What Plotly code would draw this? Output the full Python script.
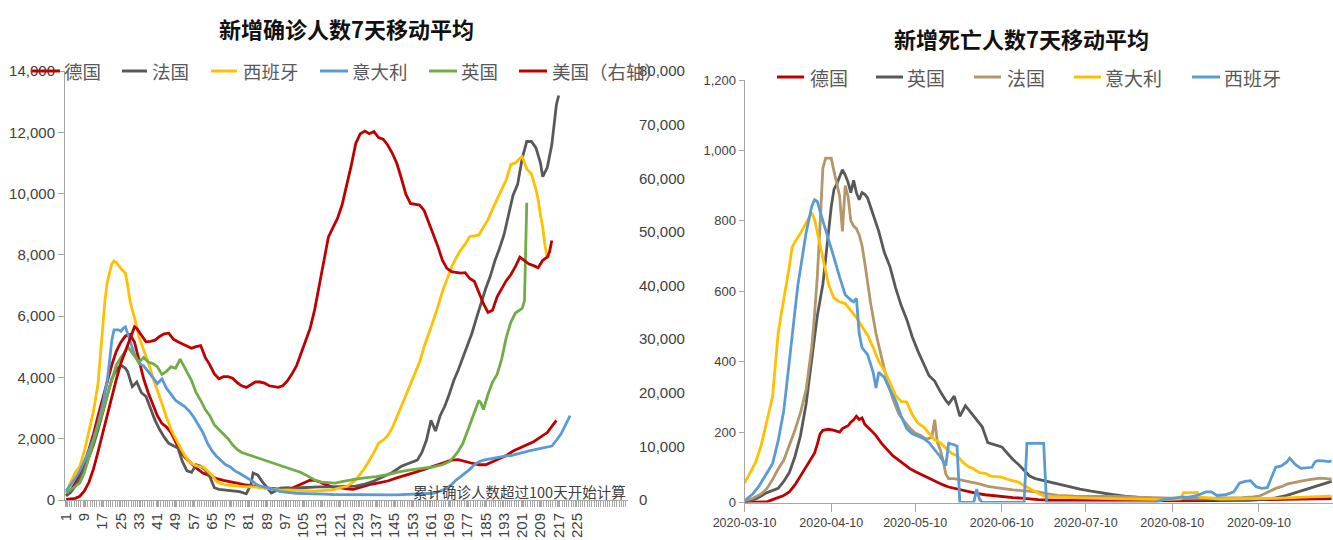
import plotly.graph_objects as go

W, H = 1333, 540

# ======================= Left chart: 新增确诊人数7天移动平均 =======================
# x = day number since cumulative cases passed 100 (category axis)
de_c_day = [1, 3, 5, 7, 9, 11, 13, 15, 17, 19, 21, 23, 25, 27, 29, 31, 33, 35, 37, 39, 41, 43, 45, 47, 49, 51, 53, 55,
            58, 61, 64, 67, 70, 73, 76, 79, 82, 85, 88, 91, 94, 97, 100, 103, 106,
            108, 110, 112, 114, 116, 118, 121, 124, 127, 130,
            134, 138, 142, 146, 150, 154, 158, 162, 166, 170,
            173, 176, 179, 182, 185, 188, 191, 194, 197, 200, 203, 206, 209, 212, 214, 216]
de_c_val = [150, 300, 550, 850, 1200, 1650, 2150, 2750, 3300, 3850, 4400, 4850, 5150, 5350, 5400, 5150, 4550, 3950, 3500, 3100, 2750, 2500, 2380, 2200, 1900, 1600, 1400, 1250,
            1050, 880, 780, 700, 640, 590, 540, 500, 470, 430, 400, 380, 350, 340, 380, 480, 600,
            650, 640, 600, 520, 460, 420, 400, 360, 350, 420,
            500, 560, 620, 720, 800, 900, 1000, 1100, 1200, 1300,
            1320, 1250, 1200, 1150, 1150, 1250, 1350, 1450, 1600, 1700, 1800, 1900, 2050, 2200, 2400, 2600]

fr_c_day = [1, 3, 5, 7, 9, 11, 13, 15, 17, 19, 21, 23, 25, 27, 28, 30, 32, 34, 36, 38, 40, 42, 44, 46, 48, 50,
            52, 54, 56, 58, 60, 62, 64, 66, 68, 71, 74, 77, 80, 82, 83, 85, 87, 89, 91, 93, 95, 98,
            101, 104, 108, 112, 116, 120, 124, 128, 132, 136, 140, 144, 148, 152, 155, 157, 159, 161, 163,
            165, 167, 169, 171, 173, 175, 177, 179, 181, 183, 185, 187, 189, 191, 193, 195, 197, 199,
            201, 203, 205, 207, 209, 210, 212, 214, 215, 216, 217]
fr_c_val = [130, 250, 450, 700, 1000, 1400, 1800, 2300, 2900, 3400, 3950, 4250, 4400, 4300, 4180, 3700, 3850, 3500, 3380, 3000, 2600, 2300, 2050, 1850, 1780, 1700,
            1250, 950, 900, 1150, 1100, 980, 760, 400, 350, 330, 300, 270, 200, 500, 880, 820, 600, 420, 230, 300, 390, 400,
            380, 400, 420, 430, 430, 430, 440, 450, 520, 620, 760, 900, 1100, 1200, 1300, 1550, 1950, 2600, 2250,
            2750, 3050, 3450, 3900, 4250, 4650, 5050, 5450, 5950, 6450, 6900, 7300, 7800, 8200, 8650, 9300, 9950, 10300,
            11150, 11700, 11700, 11500, 11000, 10550, 10850, 11600, 12300, 12900, 13200]

es_c_day = [1, 3, 5, 7, 9, 11, 13, 15, 16, 17, 18, 19, 20, 21, 22, 23, 25, 27, 28, 29, 30, 31, 33, 35, 37, 39,
            41, 43, 45, 47, 49, 51, 53, 55, 57, 59, 61, 63, 65, 67, 69, 71, 74, 77, 80, 83, 86, 89, 92, 95, 98,
            102, 106, 110, 114, 118, 121, 124, 126, 128, 130, 132, 134, 136, 138, 140, 142, 144, 146, 148, 150,
            152, 154, 156, 158, 160, 162, 164, 166, 168, 170, 172, 174, 176, 178, 180, 182, 184, 186, 188, 190,
            192, 194, 196, 198, 200, 201, 203, 205, 207, 208, 209, 210, 211, 212, 213]
es_c_val = [250, 550, 900, 1100, 1600, 2250, 2900, 3800, 4700, 5700, 6500, 7100, 7450, 7700, 7800, 7750, 7550, 7400, 7000, 6500, 6200, 5950, 5300, 4900, 4500, 4000,
            3600, 3150, 2700, 2300, 2000, 1700, 1450, 1250, 1150, 1100, 1080, 950, 800, 600, 530, 490, 470, 430, 430, 430, 400, 380, 330, 320, 330,
            320, 300, 290, 310, 330, 400, 440, 540, 650, 850, 1050, 1300, 1550, 1850, 1950, 2100, 2350, 2700, 3050, 3450,
            3800, 4150, 4500, 5000, 5400, 5850, 6300, 6800, 7200, 7600, 7900, 8150, 8350, 8600, 8620, 8650, 8900, 9150, 9500, 9800,
            10150, 10450, 10950, 11000, 11150, 11200, 10800, 10650, 10150, 9800, 9300, 8900, 8300, 7900, 8000]

it_c_day = [1, 3, 5, 7, 9, 11, 13, 15, 17, 19, 20, 21, 22, 24, 25, 26, 27, 28, 29, 31, 33, 35, 37, 39, 41, 43, 45,
            47, 49, 51, 53, 55, 57, 59, 61, 63, 65, 67, 69, 71, 73, 75, 77, 79, 81, 83, 85, 87, 89, 91, 93, 95, 98,
            102, 106, 110, 114, 118, 122, 126, 130, 134, 138, 142, 146, 150, 154, 158, 162, 164, 166, 168, 170,
            172, 174, 176, 178, 180, 182, 184, 186, 188, 190, 192, 194, 196, 198, 200, 202, 204, 206, 208, 210,
            212, 214, 216, 218, 220, 222]
it_c_val = [300, 500, 700, 950, 1250, 1600, 2000, 2500, 3100, 3900, 4500, 5200, 5550, 5550, 5500, 5600, 5650, 5450, 5200, 4750, 4450, 4380, 4200, 4000, 3800, 3950, 3650,
            3450, 3250, 3150, 3050, 2900, 2700, 2450, 2200, 1850, 1600, 1420, 1300, 1150, 1080, 950, 870, 780, 680, 600, 480, 440, 420, 370, 320, 270, 240,
            220, 210, 210, 190, 180, 175, 165, 170, 165, 170, 165, 165, 175, 190, 200, 220, 260, 320, 380, 500,
            650, 760, 870, 1000, 1150, 1250, 1300, 1330, 1360, 1390, 1420, 1440, 1450, 1480, 1520, 1560, 1600, 1630, 1660, 1700,
            1720, 1760, 1950, 2150, 2450, 2750]

uk_c_day = [1, 3, 5, 7, 9, 11, 13, 15, 17, 19, 21, 23, 25, 27, 28, 29, 31, 33, 35, 37, 39, 41, 43, 45, 47, 49, 51, 52,
            54, 56, 58, 60, 62, 64, 66, 68, 70, 72, 74, 76, 78, 80, 83, 86, 89, 92, 95, 98, 101, 104, 107, 110,
            113, 116, 119, 122, 125, 128, 132, 137, 142, 147, 152, 157, 162, 166, 169, 171, 173, 175, 177, 179,
            181, 182, 183, 184, 186, 188, 190, 192, 194, 196, 198, 200, 201, 202, 203]
uk_c_val = [220, 330, 450, 560, 900, 1400, 1850, 2350, 2900, 3400, 3900, 4400, 4650, 4850, 5000, 4900, 4700, 4500, 4650, 4500, 4450, 4350, 4100, 4200, 4350, 4300, 4600, 4450,
            4200, 3900, 3500, 3250, 2950, 2750, 2450, 2300, 2150, 2000, 1800, 1650, 1550, 1500, 1420, 1350, 1260, 1200, 1130, 1050, 980, 900, 780, 650,
            580, 560, 550, 600, 650, 680, 720, 760, 830, 920, 980, 1030, 1080, 1150, 1250, 1400, 1600, 1850, 2250, 2650,
            3000, 3250, 3150, 2950, 3450, 3850, 4100, 4600, 5300, 5800, 6100, 6200, 6250, 6500, 9700]

# US on the right axis
us_c_day = [1, 3, 5, 7, 9, 11, 13, 15, 17, 19, 21, 23, 25, 27, 29, 31,
            32, 34, 36, 38, 40, 42, 44, 46, 48, 50, 52, 54, 56, 58, 60, 62, 64, 66, 68, 70,
            72, 74, 76, 78, 80, 82, 84, 86, 88, 90, 92, 94, 96, 98, 100, 102, 104, 106, 108, 110,
            112, 114, 116, 118, 120, 122, 124, 126, 128, 130, 132, 134, 136, 138, 140, 142, 144, 146, 148, 150,
            152, 154, 156, 158, 160, 162, 164, 166, 168, 170, 172, 174, 176, 178, 180, 182, 184, 186, 188, 190,
            192, 194, 196, 198, 200, 202, 204, 206, 208, 210, 212, 213, 214]
us_c_val = [100, 150, 300, 700, 1700, 3300, 5800, 9000, 12400, 15900, 19200, 22500, 25500, 27900, 30300, 32300,
            32000, 30700, 29500, 29600, 29800, 30500, 31000, 31100, 30000, 29500, 29100, 28700, 28300, 28600, 28800, 26600, 25200, 23500, 22600, 23000,
            23000, 22700, 21900, 21300, 21000, 21500, 22000, 22000, 21800, 21300, 21100, 21000, 21300, 22200, 23500, 25000, 27300, 29500, 32000, 35500,
            40000, 45000, 49000, 50800, 52500, 55000, 58500, 62300, 66500, 68300, 68800, 68300, 68700, 67600, 67300, 66200, 64700, 62800, 60000, 57000,
            55300, 55200, 55000, 54000, 51800, 49700, 47300, 44700, 43200, 42600, 42400, 42300, 42400, 41300, 40800, 38700, 36600, 35000, 35400, 37900,
            39400, 40900, 42000, 43500, 45300, 44600, 44000, 43700, 43300, 44700, 45300, 46300, 48400]

left_tickvals = [1, 9, 17, 25, 33, 41, 49, 57, 65, 73, 81, 89, 97, 105, 113, 121, 129, 137, 145, 153, 161, 169,
                 177, 185, 193, 201, 209, 217, 225]
left_ticktext = [str(v) for v in left_tickvals]

# ======================= Right chart: 新增死亡人数7天移动平均 =======================
de_d_date = ["2020-03-10", "2020-03-18", "2020-03-20", "2020-03-22", "2020-03-24", "2020-03-26", "2020-03-28", "2020-03-30",
             "2020-04-01", "2020-04-03", "2020-04-04", "2020-04-05", "2020-04-06", "2020-04-07", "2020-04-09", "2020-04-11",
             "2020-04-12", "2020-04-13", "2020-04-14", "2020-04-15", "2020-04-16", "2020-04-17", "2020-04-18", "2020-04-19",
             "2020-04-20", "2020-04-21", "2020-04-22", "2020-04-24", "2020-04-26", "2020-04-28", "2020-04-30", "2020-05-02",
             "2020-05-04", "2020-05-06", "2020-05-08", "2020-05-10", "2020-05-12", "2020-05-14", "2020-05-16", "2020-05-18",
             "2020-05-20", "2020-05-22", "2020-05-24", "2020-05-26", "2020-05-29", "2020-06-01", "2020-06-04", "2020-06-07",
             "2020-06-10", "2020-06-14", "2020-06-18", "2020-06-23", "2020-06-28", "2020-07-08", "2020-07-18", "2020-07-28",
             "2020-08-07", "2020-08-17", "2020-08-27", "2020-09-06", "2020-09-11", "2020-09-16", "2020-09-26", "2020-10-06"]
de_d_val = [0, 2, 8, 14, 20, 30, 50, 75, 100, 128, 140, 165, 195, 205, 208, 205, 202, 200, 210, 215, 218, 228, 235, 245,
            236, 240, 222, 207, 190, 168, 150, 133, 121, 108, 97, 88, 80, 72, 66, 58, 50, 44, 40, 36, 30, 26, 22, 19,
            17, 14, 12, 8, 7, 6, 5, 5, 5, 5, 5, 7, 8, 9, 10, 11]

uk_d_date = ["2020-03-10", "2020-03-14", "2020-03-18", "2020-03-22", "2020-03-24", "2020-03-26", "2020-03-28", "2020-03-30",
             "2020-04-01", "2020-04-03", "2020-04-05", "2020-04-07", "2020-04-08", "2020-04-09", "2020-04-10", "2020-04-11",
             "2020-04-12", "2020-04-13", "2020-04-14", "2020-04-15", "2020-04-16", "2020-04-17", "2020-04-18", "2020-04-19",
             "2020-04-20", "2020-04-21", "2020-04-22", "2020-04-23", "2020-04-24", "2020-04-25", "2020-04-27", "2020-04-29",
             "2020-05-01", "2020-05-03", "2020-05-05", "2020-05-07", "2020-05-09", "2020-05-11", "2020-05-13", "2020-05-15",
             "2020-05-17", "2020-05-19", "2020-05-21", "2020-05-22", "2020-05-24", "2020-05-26", "2020-05-28", "2020-05-30",
             "2020-06-01", "2020-06-03", "2020-06-05", "2020-06-07", "2020-06-10", "2020-06-12", "2020-06-14", "2020-06-16",
             "2020-06-18", "2020-06-20", "2020-06-22", "2020-06-24", "2020-06-26", "2020-06-28", "2020-07-01", "2020-07-04",
             "2020-07-08", "2020-07-12", "2020-07-16", "2020-07-20", "2020-07-24", "2020-07-28", "2020-08-02", "2020-08-07",
             "2020-08-17", "2020-08-27", "2020-09-06", "2020-09-12", "2020-09-16", "2020-09-20", "2020-09-24", "2020-09-28",
             "2020-10-02", "2020-10-06"]
uk_d_val = [1, 10, 28, 40, 60, 85, 130, 190, 280, 400, 530, 620, 700, 760, 840, 890, 905, 925, 945, 930, 910, 880, 915, 880,
            860, 880, 875, 865, 840, 820, 770, 710, 670, 610, 560, 520, 470, 430, 395, 360, 345, 315, 290, 280, 302, 245,
            275, 255, 233, 215, 170, 165, 158, 140, 122, 108, 92, 75, 68, 64, 62, 57, 52, 44, 38, 32, 26, 22, 18, 15,
            12, 11, 9, 7, 7, 9, 13, 20, 30, 40, 50, 60]

fr_d_date = ["2020-03-10", "2020-03-13", "2020-03-16", "2020-03-18", "2020-03-20", "2020-03-22", "2020-03-24", "2020-03-26",
             "2020-03-28", "2020-03-30", "2020-03-31", "2020-04-01", "2020-04-02", "2020-04-03", "2020-04-04", "2020-04-05",
             "2020-04-06", "2020-04-07", "2020-04-08", "2020-04-10", "2020-04-11", "2020-04-12", "2020-04-13", "2020-04-14",
             "2020-04-15", "2020-04-16", "2020-04-17", "2020-04-18", "2020-04-19", "2020-04-20", "2020-04-21", "2020-04-22",
             "2020-04-23", "2020-04-24", "2020-04-26", "2020-04-28", "2020-04-30", "2020-05-02", "2020-05-04", "2020-05-06",
             "2020-05-08", "2020-05-10", "2020-05-12", "2020-05-14", "2020-05-16", "2020-05-17", "2020-05-18", "2020-05-19",
             "2020-05-20", "2020-05-21", "2020-05-22", "2020-05-24", "2020-05-27", "2020-05-30", "2020-06-02", "2020-06-05",
             "2020-06-08", "2020-06-11", "2020-06-14", "2020-06-17", "2020-06-20", "2020-06-23", "2020-06-26", "2020-06-30",
             "2020-07-06", "2020-07-13", "2020-07-20", "2020-07-28", "2020-08-05", "2020-08-13", "2020-08-21", "2020-08-29",
             "2020-09-04", "2020-09-08", "2020-09-10", "2020-09-12", "2020-09-14", "2020-09-16", "2020-09-18", "2020-09-20",
             "2020-09-22", "2020-09-24", "2020-09-26", "2020-09-28", "2020-09-30", "2020-10-02", "2020-10-04", "2020-10-06"]
fr_d_val = [5, 12, 25, 40, 65, 95, 120, 160, 205, 255, 285, 320, 380, 440, 530, 640, 790, 950, 978, 978, 940, 900, 870, 770,
            900, 870, 800, 785, 778, 760, 730, 680, 620, 570, 480, 415, 345, 295, 255, 232, 212, 197, 190, 180, 185, 235,
            170, 150, 120, 80, 68, 68, 62, 58, 53, 46, 42, 38, 36, 34, 32, 30, 25, 20, 18, 18, 17, 15, 13, 12, 12, 12,
            14, 16, 18, 25, 33, 40, 45, 52, 56, 60, 62, 65, 67, 69, 68, 66]

it_d_date = ["2020-03-10", "2020-03-12", "2020-03-14", "2020-03-16", "2020-03-17", "2020-03-18", "2020-03-20", "2020-03-21",
             "2020-03-22", "2020-03-23", "2020-03-24", "2020-03-26", "2020-03-27", "2020-03-28", "2020-03-30", "2020-04-01",
             "2020-04-03", "2020-04-04", "2020-04-05", "2020-04-07", "2020-04-09", "2020-04-11", "2020-04-13", "2020-04-15",
             "2020-04-17", "2020-04-19", "2020-04-21", "2020-04-23", "2020-04-25", "2020-04-27", "2020-04-29", "2020-05-01",
             "2020-05-03", "2020-05-05", "2020-05-07", "2020-05-09", "2020-05-11", "2020-05-13", "2020-05-15", "2020-05-17",
             "2020-05-19", "2020-05-21", "2020-05-23", "2020-05-25", "2020-05-27", "2020-05-29", "2020-05-31", "2020-06-02",
             "2020-06-04", "2020-06-06", "2020-06-08", "2020-06-10", "2020-06-12", "2020-06-14", "2020-06-16", "2020-06-18",
             "2020-06-20", "2020-06-22", "2020-06-24", "2020-06-26", "2020-06-30", "2020-07-08", "2020-07-18", "2020-07-28",
             "2020-08-07", "2020-08-13", "2020-08-14", "2020-08-19", "2020-08-20", "2020-08-27", "2020-09-06", "2020-09-16",
             "2020-09-26", "2020-10-06"]
it_d_val = [55, 85, 115, 165, 200, 230, 300, 390, 480, 530, 575, 670, 725, 740, 765, 795, 823, 805, 766, 690, 620, 580, 570, 565,
            545, 525, 500, 475, 440, 400, 375, 340, 305, 287, 285, 250, 225, 215, 195, 178, 170, 155, 140, 133, 115, 102,
            95, 85, 83, 75, 73, 72, 66, 62, 58, 48, 40, 30, 22, 17, 15, 13, 11, 9, 8, 10, 28, 28, 15, 10, 10, 12, 15, 18]

es_d_date = ["2020-03-10", "2020-03-13", "2020-03-15", "2020-03-17", "2020-03-19", "2020-03-20", "2020-03-22", "2020-03-24",
             "2020-03-25", "2020-03-27", "2020-03-29", "2020-04-01", "2020-04-03", "2020-04-04", "2020-04-05", "2020-04-07",
             "2020-04-09", "2020-04-11", "2020-04-13", "2020-04-15", "2020-04-17", "2020-04-18", "2020-04-19", "2020-04-20",
             "2020-04-21", "2020-04-23", "2020-04-25", "2020-04-26", "2020-04-27", "2020-04-29", "2020-05-01", "2020-05-03",
             "2020-05-05", "2020-05-07", "2020-05-09", "2020-05-11", "2020-05-13", "2020-05-15", "2020-05-17", "2020-05-19",
             "2020-05-21", "2020-05-22", "2020-05-24", "2020-05-25", "2020-05-26", "2020-05-31", "2020-06-01", "2020-06-02",
             "2020-06-03", "2020-06-18", "2020-06-19", "2020-06-25", "2020-06-26", "2020-08-03", "2020-08-07", "2020-08-10",
             "2020-08-13", "2020-08-16", "2020-08-19", "2020-08-22", "2020-08-24", "2020-08-26", "2020-08-29", "2020-09-01",
             "2020-09-03", "2020-09-05", "2020-09-07", "2020-09-09", "2020-09-11", "2020-09-13", "2020-09-15", "2020-09-16",
             "2020-09-18", "2020-09-20", "2020-09-21", "2020-09-23", "2020-09-25", "2020-09-27", "2020-09-29", "2020-09-30",
             "2020-10-01", "2020-10-03", "2020-10-05", "2020-10-06"]
es_d_val = [5, 25, 45, 70, 95, 110, 175, 260, 330, 480, 614, 766, 840, 860, 855, 800, 750, 695, 640, 590, 575, 570, 580, 480,
            440, 420, 370, 325, 370, 355, 320, 290, 245, 210, 195, 188, 182, 170, 150, 130, 105, 168, 164, 160, 0, 0,
            38, 10, 0, 0, 168, 168, 0, 0, 8, 12, 15, 15, 20, 30, 30, 20, 22, 30, 55, 60, 62, 45, 40, 42, 80, 100,
            104, 115, 126, 108, 97, 98, 100, 115, 119, 118, 116, 118]

right_tickvals = ["2020-03-10", "2020-04-10", "2020-05-10", "2020-06-10", "2020-07-10", "2020-08-10", "2020-09-10"]

# sanity checks on paired lists
for a, b, n in [(de_c_day, de_c_val, "de_c"), (fr_c_day, fr_c_val, "fr_c"), (es_c_day, es_c_val, "es_c"),
                (it_c_day, it_c_val, "it_c"), (uk_c_day, uk_c_val, "uk_c"), (us_c_day, us_c_val, "us_c"),
                (de_d_date, de_d_val, "de_d"), (uk_d_date, uk_d_val, "uk_d"), (fr_d_date, fr_d_val, "fr_d"),
                (it_d_date, it_d_val, "it_d"), (es_d_date, es_d_val, "es_d")]:
    assert len(a) == len(b), (n, len(a), len(b))

# ======================= styling =======================
RED = "#C00000"
GREY = "#595959"
YELLOW = "#FFC000"
BLUE = "#5B9BD5"
GREEN = "#70AD47"
TAN = "#B3966A"
AXC = "#A6A6A6"
TXT = "#404040"
SANS = "Liberation Sans, Arial, sans-serif"
CJK = "Noto Sans CJK SC, Noto Sans, sans-serif"
LW = 2.8

fig = go.Figure()


def add_line(x, y, name, color, xa, ya):
    fig.add_trace(go.Scatter(x=x, y=y, name=name, mode="lines",
                             line=dict(color=color, width=LW), xaxis=xa, yaxis=ya,
                             showlegend=False))


# left chart traces
add_line(de_c_day, de_c_val, "德国", RED, "x", "y")
add_line(fr_c_day, fr_c_val, "法国", GREY, "x", "y")
add_line(es_c_day, es_c_val, "西班牙", YELLOW, "x", "y")
add_line(it_c_day, it_c_val, "意大利", BLUE, "x", "y")
add_line(uk_c_day, uk_c_val, "英国", GREEN, "x", "y")
add_line(us_c_day, us_c_val, "美国（右轴）", RED, "x", "y2")

# right chart traces
add_line(de_d_date, de_d_val, "德国", RED, "x2", "y3")
add_line(uk_d_date, uk_d_val, "英国", GREY, "x2", "y3")
add_line(fr_d_date, fr_d_val, "法国", TAN, "x2", "y3")
add_line(it_d_date, it_d_val, "意大利", YELLOW, "x2", "y3")
add_line(es_d_date, es_d_val, "西班牙", BLUE, "x2", "y3")


def px(x):
    return x / W


def py(y):
    return 1 - y / H


fig.update_layout(
    width=W, height=H, autosize=False,
    margin=dict(l=0, r=0, t=0, b=0, pad=0, autoexpand=False),
    paper_bgcolor="white", plot_bgcolor="white",
    showlegend=False,
    xaxis=dict(domain=[px(65), px(628)], anchor="y", range=[0.5, 247.4], automargin=False,
               tickmode="array", tickvals=left_tickvals, ticktext=left_ticktext, tickangle=-90,
               ticks="outside", ticklen=6, tickcolor=AXC, tickwidth=1,
               minor=dict(ticks="outside", tickmode="linear", tick0=0.5, dtick=1, ticklen=6,
                          tickcolor=AXC, tickwidth=1, showgrid=False),
               showline=True, linecolor=AXC, linewidth=1, showgrid=False, zeroline=False,
               tickfont=dict(family=SANS, size=15, color=TXT)),
    yaxis=dict(domain=[py(500), py(71)], anchor="x", range=[0, 14000], automargin=False,
               tickmode="linear", tick0=0, dtick=2000, tickformat=",d",
               ticks="outside", ticklen=6, tickcolor=AXC,
               showline=True, linecolor=AXC, linewidth=1, showgrid=False, zeroline=False,
               tickfont=dict(family=SANS, size=15, color=TXT)),
    yaxis2=dict(overlaying="y", side="right", anchor="x", range=[0, 80000], automargin=False,
                tickmode="linear", tick0=0, dtick=10000, tickformat=",d",
                ticks="", showline=False, showgrid=False, zeroline=False,
                ticklabelstandoff=10,
                tickfont=dict(family=SANS, size=15, color=TXT)),
    xaxis2=dict(domain=[px(744.6), 1.0], anchor="y3", type="date", automargin=False,
                range=["2020-03-10", "2020-10-06 12:00"],
                tickmode="array", tickvals=right_tickvals, ticktext=right_tickvals, tickangle=0,
                ticks="outside", ticklen=8, tickcolor=AXC,
                showline=True, linecolor=AXC, linewidth=1, showgrid=False, zeroline=False,
                tickfont=dict(family=SANS, size=12.5, color=TXT)),
    yaxis3=dict(domain=[py(502.5), py(80)], anchor="x2", range=[0, 1200], automargin=False,
                tickmode="linear", tick0=0, dtick=200, tickformat=",d",
                ticks="outside", ticklen=5, tickcolor=AXC,
                showline=True, linecolor=AXC, linewidth=1, showgrid=False, zeroline=False,
                tickfont=dict(family=SANS, size=13, color=TXT)),
)

annotations = [
    dict(text="新增确诊人数7天移动平均", x=px(347), y=py(28), xref="paper", yref="paper",
         xanchor="center", yanchor="middle", showarrow=False,
         font=dict(family=CJK, size=22, color="#111111", weight=700)),
    dict(text="新增死亡人数7天移动平均", x=px(1021), y=py(38), xref="paper", yref="paper",
         xanchor="center", yanchor="middle", showarrow=False,
         font=dict(family=CJK, size=22, color="#111111", weight=700)),
    dict(text="累计确诊人数超过100天开始计算", x=px(519), y=py(491), xref="paper", yref="paper",
         xanchor="center", yanchor="middle", showarrow=False,
         font=dict(family=CJK, size=14.5, color=TXT)),
]
shapes = []

# manual legends: (label, colour, line x0, line x1, text x)
left_legend = [("德国", RED, 32, 60, 62), ("法国", GREY, 122, 147, 150), ("西班牙", YELLOW, 211, 237, 241),
               ("意大利", BLUE, 320, 348, 350), ("英国", GREEN, 429, 457, 459), ("美国（右轴）", RED, 519, 547, 550)]
right_legend = [("德国", RED, 777, 804, 808), ("英国", GREY, 876, 903, 905), ("法国", TAN, 974, 1001, 1005),
                ("意大利", YELLOW, 1074, 1101, 1103), ("西班牙", BLUE, 1192, 1220, 1222)]
for items, ycen, fs in [(left_legend, 71, 18.5), (right_legend, 77, 19)]:
    for label, color, x0, x1, tx in items:
        shapes.append(dict(type="line", xref="paper", yref="paper", x0=px(x0), x1=px(x1),
                           y0=py(ycen), y1=py(ycen), line=dict(color=color, width=3)))
        annotations.append(dict(text=label, x=px(tx), y=py(ycen), xref="paper", yref="paper",
                                xanchor="left", yanchor="middle", showarrow=False,
                                font=dict(family=CJK, size=fs, color="#595959")))

fig.update_layout(annotations=annotations, shapes=shapes)

fig.write_html("out.html", config={"displayModeBar": False},
               post_script="document.body.style.margin='0';document.body.style.overflow='hidden';")
